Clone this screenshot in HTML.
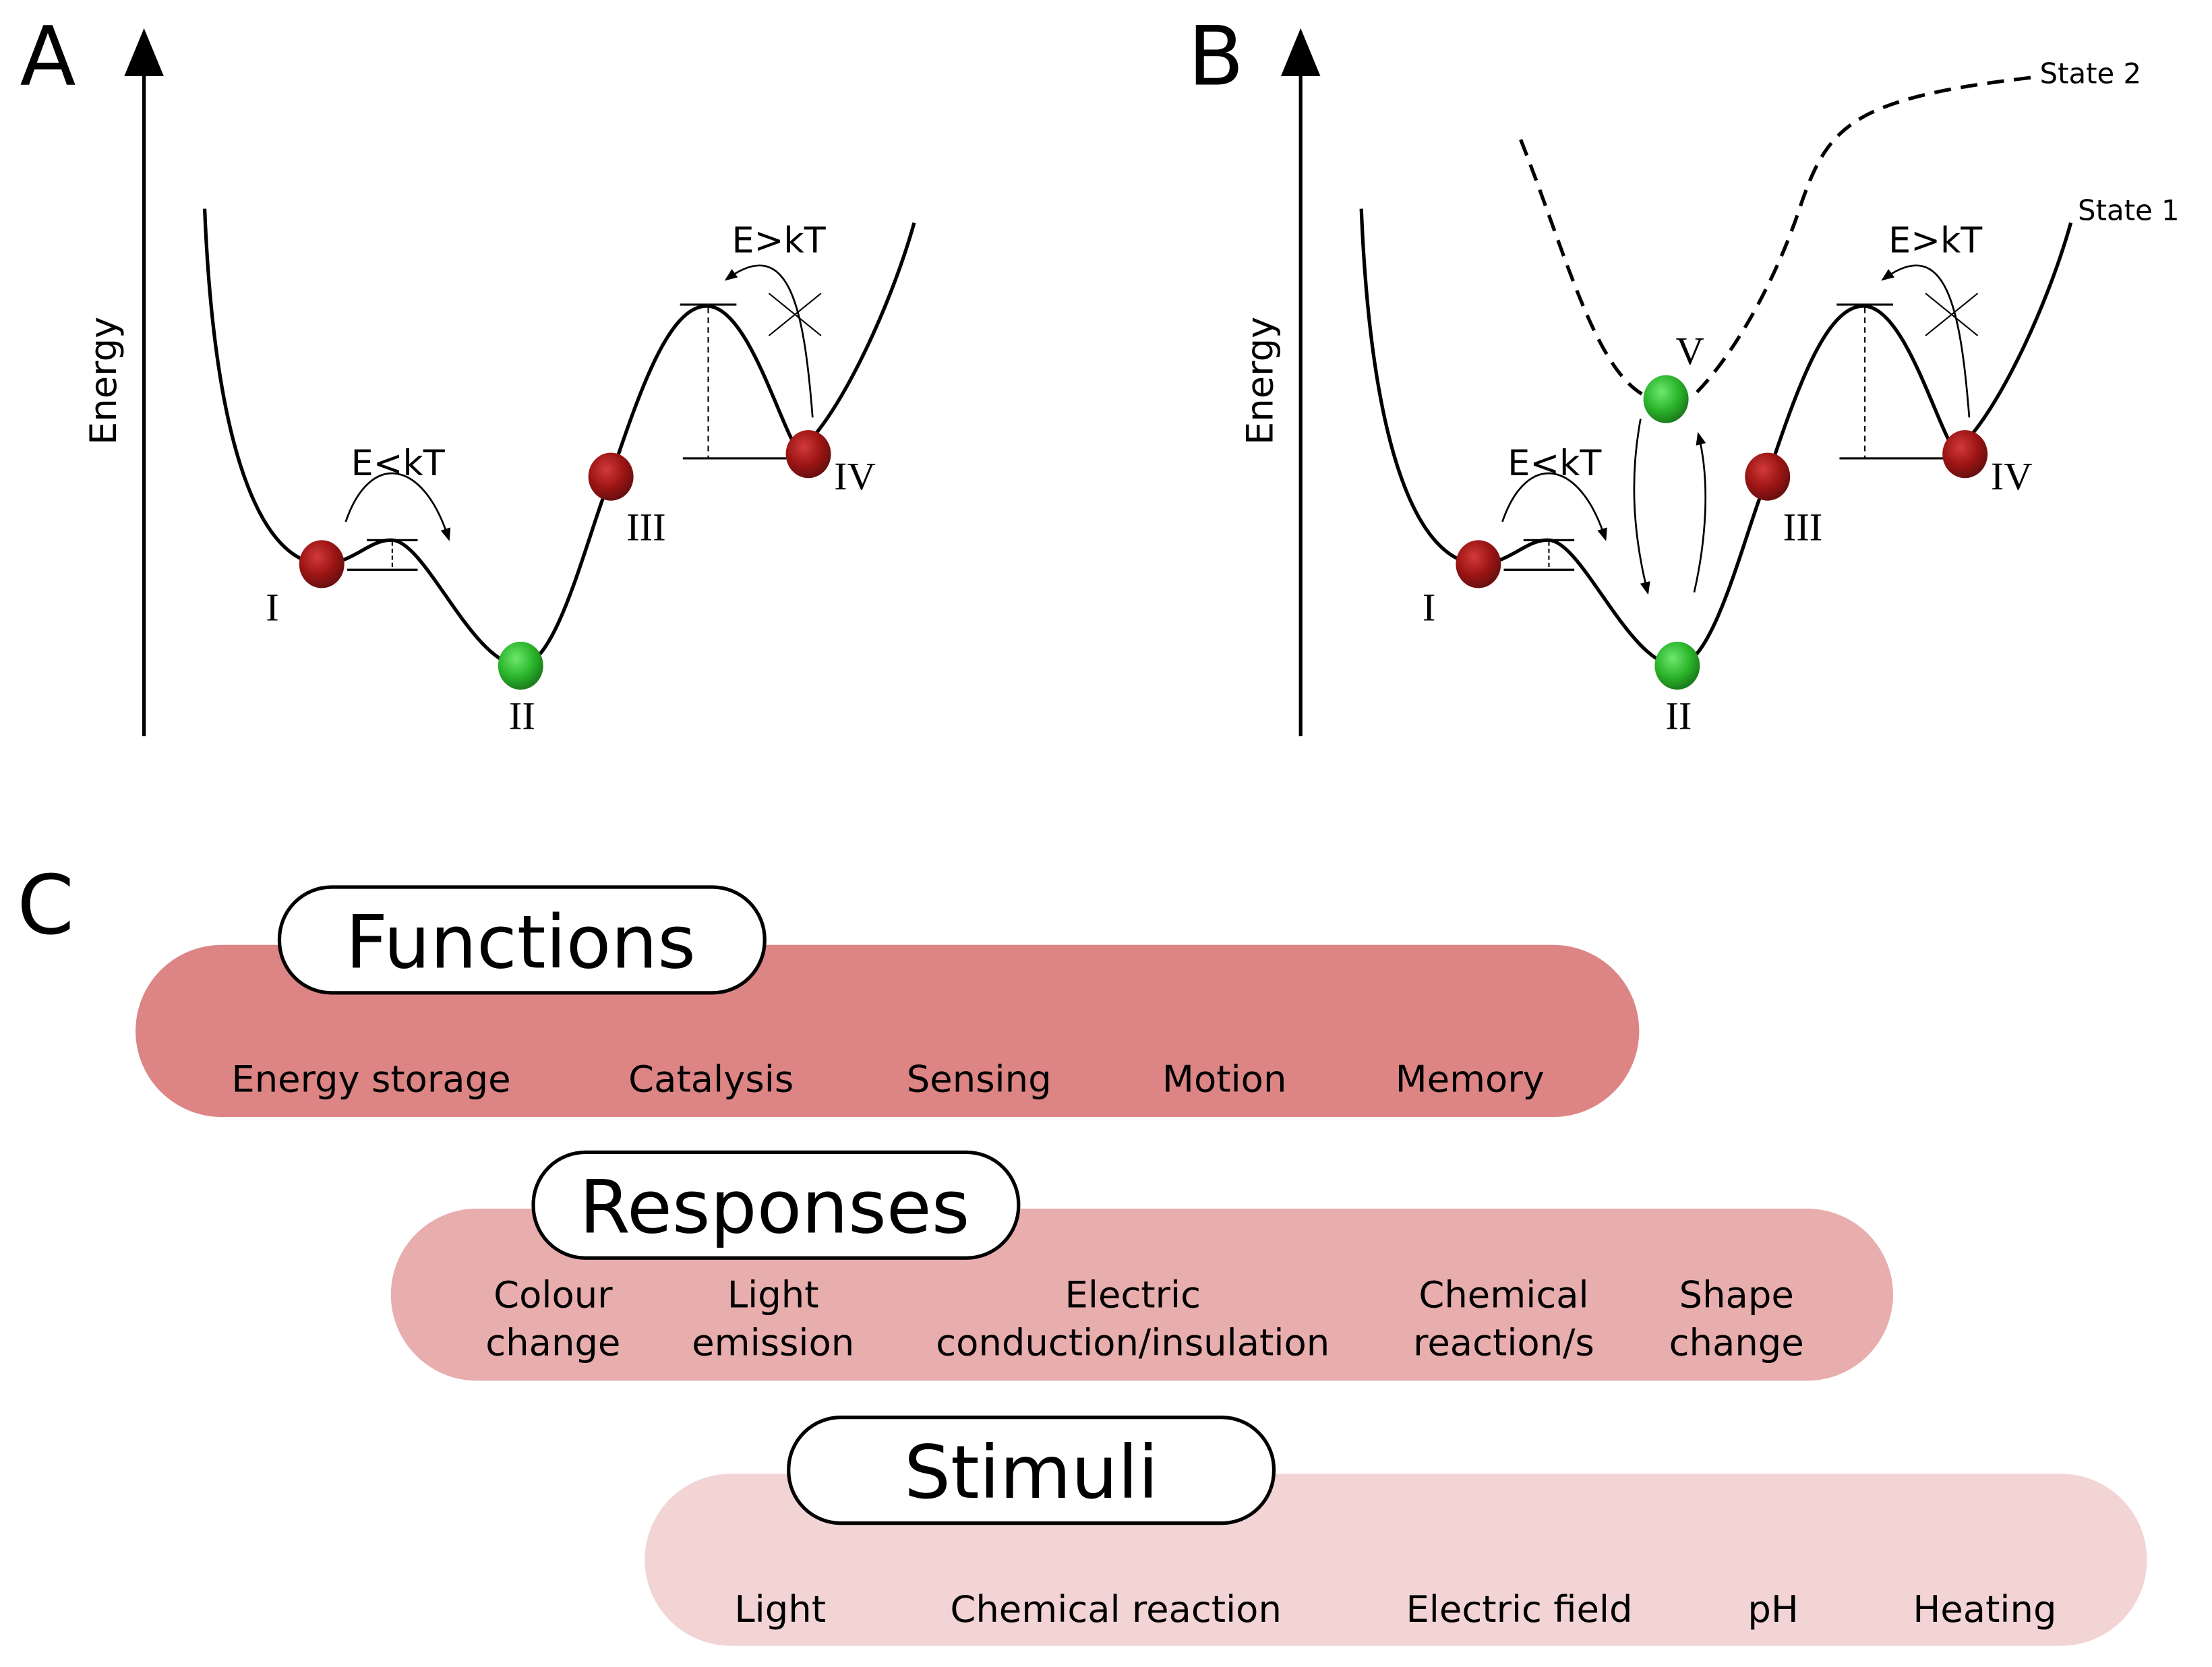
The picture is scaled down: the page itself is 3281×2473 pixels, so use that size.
<!DOCTYPE html>
<html><head><meta charset="utf-8"><style>html,body{margin:0;padding:0;background:#fff}svg{display:block}</style></head>
<body>
<svg xmlns="http://www.w3.org/2000/svg" width="3281" height="2473" viewBox="0 0 1568 1182" font-family="'DejaVu Sans','Liberation Sans',sans-serif">
<defs>
<radialGradient id="red" cx="0.4" cy="0.35" r="0.65"><stop offset="0" stop-color="#d23a3a"/><stop offset="0.6" stop-color="#9c1414"/><stop offset="1" stop-color="#6a1010"/></radialGradient>
<radialGradient id="grn" cx="0.4" cy="0.35" r="0.65"><stop offset="0" stop-color="#6ee86e"/><stop offset="0.6" stop-color="#2bb52b"/><stop offset="1" stop-color="#1c7d1c"/></radialGradient>
<marker id="ah" viewBox="0 0 10 10" refX="8" refY="5" markerWidth="7" markerHeight="7" orient="auto"><path d="M0,1 L10,5 L0,9 Z" fill="#000"/></marker>
<g id="panel">
  <line x1="102" y1="522" x2="102" y2="50" stroke="#000" stroke-width="2.5"/>
  <path d="M102,20 L88,54 L116,54 Z" fill="#000"/>
  <text transform="translate(82,270) rotate(-90)" font-size="26" text-anchor="middle">Energy</text>
  <path d="M145,148 C152,320 185,398 228,400 C250,400 262,382 278,383 C302,384 335,472 369,472 C395,472 416,380 433,338 C455,272 475,217 501,217 C530,217 552,300 566,320 C592,300 630,222 648,158" fill="none" stroke="#000" stroke-width="2.5"/>
  <line x1="260" y1="383" x2="296" y2="383" stroke="#000" stroke-width="1.5"/>
  <line x1="246" y1="404" x2="296" y2="404" stroke="#000" stroke-width="1.5"/>
  <line x1="278" y1="384" x2="278" y2="404" stroke="#000" stroke-width="1" stroke-dasharray="3,2"/>
  <line x1="482" y1="216" x2="522" y2="216" stroke="#000" stroke-width="1.5"/>
  <line x1="484" y1="325" x2="560" y2="325" stroke="#000" stroke-width="1.5"/>
  <line x1="502" y1="218" x2="502" y2="325" stroke="#000" stroke-width="1" stroke-dasharray="4,3"/>
  <path d="M245,370 C262,320 300,325 318,382" fill="none" stroke="#000" stroke-width="1.3" marker-end="url(#ah)"/>
  <text x="282" y="337" font-size="25" text-anchor="middle">E&lt;kT</text>
  <path d="M576,296 C570,220 560,165 515,198" fill="none" stroke="#000" stroke-width="1.3" marker-end="url(#ah)"/>
  <text x="552" y="179" font-size="25" text-anchor="middle">E&gt;kT</text>
  <line x1="545" y1="208" x2="582" y2="238" stroke="#000" stroke-width="1"/>
  <line x1="545" y1="238" x2="582" y2="208" stroke="#000" stroke-width="1"/>
  <ellipse cx="228" cy="400" rx="16" ry="17" fill="url(#red)"/>
  <ellipse cx="369" cy="472" rx="16" ry="17" fill="url(#grn)"/>
  <ellipse cx="433" cy="338" rx="16" ry="17" fill="url(#red)"/>
  <ellipse cx="573" cy="322" rx="16" ry="17" fill="url(#red)"/>
  <g font-family="'Liberation Serif',serif" font-size="28" text-anchor="middle">
    <text x="193" y="440">I</text><text x="370" y="517">II</text><text x="458" y="383">III</text><text x="606" y="347">IV</text>
  </g>
</g>
</defs>
<rect width="1568" height="1182" fill="#fff"/>
<text x="14" y="60" font-size="58">A</text>
<use href="#panel"/>
<text x="842" y="60" font-size="58">B</text>
<g transform="translate(820,0)"><use href="#panel"/></g>
<!-- B extras -->
<path d="M1078,99 C1110,180 1130,260 1165,280" fill="none" stroke="#000" stroke-width="2.5" stroke-dasharray="12,7"/>
<path d="M1203,278 C1230,250 1258,200 1275,150 C1295,90 1310,70 1440,55" fill="none" stroke="#000" stroke-width="2.5" stroke-dasharray="12,7"/>
<text x="1446" y="59" font-size="20">State 2</text>
<text x="1473" y="156" font-size="20">State 1</text>
<text x="1198" y="258" font-family="'Liberation Serif',serif" font-size="28" text-anchor="middle">V</text>
<ellipse cx="1181" cy="283" rx="16" ry="17" fill="url(#grn)"/>
<path d="M1163,297 C1155,340 1158,380 1168,420" fill="none" stroke="#000" stroke-width="1.3" marker-end="url(#ah)"/>
<path d="M1201,420 C1210,380 1212,340 1204,308" fill="none" stroke="#000" stroke-width="1.3" marker-end="url(#ah)"/>
<!-- C -->
<text x="12" y="662" font-size="58">C</text>
<rect x="96" y="670" width="1066" height="122" rx="61" fill="#dc8584"/>
<rect x="198" y="629" width="344" height="75" rx="37" fill="#fff" stroke="#000" stroke-width="2.5"/>
<text x="369" y="686" font-size="52" text-anchor="middle">Functions</text>
<g font-size="26" text-anchor="middle">
<text x="263" y="774">Energy storage</text><text x="504" y="774">Catalysis</text><text x="694" y="774">Sensing</text><text x="868" y="774">Motion</text><text x="1042" y="774">Memory</text>
</g>
<rect x="277" y="857" width="1065" height="122" rx="61" fill="#e8adad"/>
<rect x="378" y="817" width="344" height="75" rx="37" fill="#fff" stroke="#000" stroke-width="2.5"/>
<text x="549" y="874" font-size="52" text-anchor="middle">Responses</text>
<g font-size="26" text-anchor="middle">
<text x="392" y="927">Colour</text><text x="392" y="961">change</text>
<text x="548" y="927">Light</text><text x="548" y="961">emission</text>
<text x="803" y="927">Electric</text><text x="803" y="961">conduction/insulation</text>
<text x="1066" y="927">Chemical</text><text x="1066" y="961">reaction/s</text>
<text x="1231" y="927">Shape</text><text x="1231" y="961">change</text>
</g>
<rect x="457" y="1045" width="1065" height="122" rx="61" fill="#f3d4d5"/>
<rect x="559" y="1005" width="344" height="75" rx="37" fill="#fff" stroke="#000" stroke-width="2.5"/>
<text x="731" y="1062" font-size="52" text-anchor="middle">Stimuli</text>
<g font-size="26" text-anchor="middle">
<text x="553" y="1150">Light</text><text x="791" y="1150">Chemical reaction</text><text x="1077" y="1150">Electric field</text><text x="1257" y="1150">pH</text><text x="1407" y="1150">Heating</text>
</g>
</svg>
</body></html>
